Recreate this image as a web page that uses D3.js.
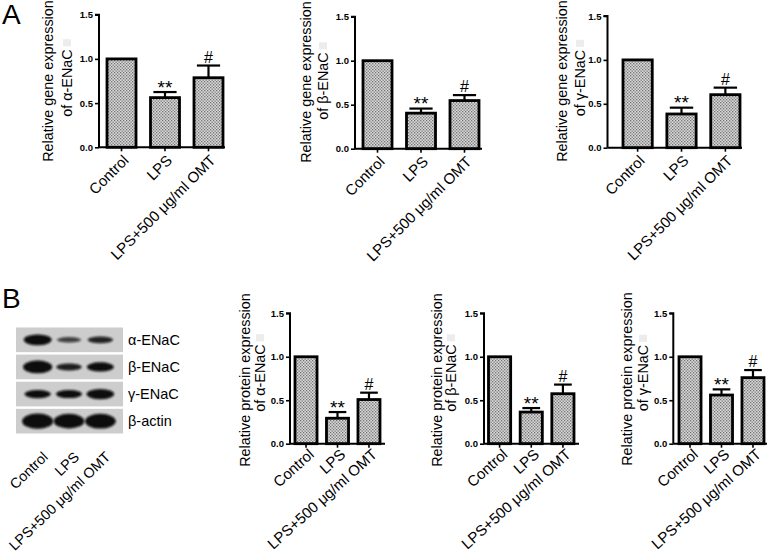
<!DOCTYPE html>
<html><head><meta charset="utf-8">
<script src="https://cdn.jsdelivr.net/npm/d3@7"></script>
<style>
html,body{margin:0;padding:0;background:#fff;}
svg{display:block;font-family:"Liberation Sans",Arial,sans-serif;}
</style></head>
<body>
<script>
// ---------- data ----------
const categories = ["Control", "LPS", "LPS+500 μg/ml OMT"];
const yTickValues = [0, 0.5, 1.0, 1.5];
const yTickLabels = ["0.0", "0.5", "1.0", "1.5"];
const sigMarks = ["", "**", "#"];

const geneAlphaMean = [1.0, 0.562, 0.787];
const geneAlphaErr  = [0, 0.063, 0.138];
const geneBetaMean  = [1.0, 0.404, 0.547];
const geneBetaErr   = [0, 0.052, 0.062];
const geneGammaMean = [1.0, 0.384, 0.604];
const geneGammaErr  = [0, 0.072, 0.080];

const protAlphaMean = [1.0, 0.293, 0.508];
const protAlphaErr  = [0, 0.071, 0.079];
const protBetaMean  = [1.0, 0.364, 0.575];
const protBetaErr   = [0, 0.046, 0.105];
const protGammaMean = [1.0, 0.560, 0.760];
const protGammaErr  = [0, 0.065, 0.087];

const geneTitles = ["of α-ENaC", "of β-ENaC", "of γ-ENaC"];
const protTitles = ["of α-ENaC", "of β-ENaC", "of γ-ENaC"];

const blotProteins = ["α-ENaC", "β-ENaC", "γ-ENaC", "β-actin"];
// relative band density per lane (Control, LPS, LPS+OMT)
const blotDensity = [
  [0.62, 0.16, 0.28],
  [0.78, 0.30, 0.48],
  [0.40, 0.38, 0.58],
  [1.00, 0.95, 0.97]
];

// ---------- drawing ----------
const W = 771, H = 556;
const svg = d3.select("body").append("svg").attr("width", W).attr("height", H);
const defs = svg.append("defs");
const pat = defs.append("pattern").attr("id", "dots")
  .attr("width", 3).attr("height", 3).attr("patternUnits", "userSpaceOnUse");
pat.append("rect").attr("width", 3).attr("height", 3).attr("fill", "#d9d9d9");
pat.append("rect").attr("x", 0).attr("y", 0).attr("width", 1.3).attr("height", 1.3).attr("fill", "#727272");
pat.append("rect").attr("x", 1.5).attr("y", 1.5).attr("width", 1.3).attr("height", 1.3).attr("fill", "#727272");
defs.append("filter").attr("id", "blur").attr("x", "-50%").attr("y", "-100%").attr("width", "200%").attr("height", "300%")
  .append("feGaussianBlur").attr("stdDeviation", 1.3);

const FONT = '"Liberation Sans",Arial,sans-serif';

function barChart(o) {
  const g = svg.append("g");
  const y = d3.scaleLinear().domain([0, 1.5]).range([o.y0, o.yTop]);
  const x = d3.scaleBand().domain(categories).range([o.bx0, o.bx1]).paddingInner(o.pad).paddingOuter(0);

  // bars
  g.selectAll("rect.bar").data(o.mean).join("rect")
    .attr("x", (d, i) => x(categories[i]))
    .attr("y", d => y(d))
    .attr("width", x.bandwidth())
    .attr("height", d => y(0) - y(d))
    .attr("fill", "url(#dots)").attr("stroke", "#000").attr("stroke-width", 2.8);

  // error bars
  const cap = x.bandwidth() * 0.4;
  o.err.forEach((e, i) => {
    if (e <= 0) return;
    const cx = x(categories[i]) + x.bandwidth() / 2;
    g.append("line").attr("x1", cx).attr("x2", cx).attr("y1", y(o.mean[i])).attr("y2", y(o.mean[i] + e))
      .attr("stroke", "#000").attr("stroke-width", 2.2);
    g.append("line").attr("x1", cx - cap).attr("x2", cx + cap).attr("y1", y(o.mean[i] + e)).attr("y2", y(o.mean[i] + e))
      .attr("stroke", "#000").attr("stroke-width", 2.2);
    const mark = sigMarks[i];
    if (mark === "**") {
      g.append("text").attr("x", cx).attr("y", y(o.mean[i] + e) + 1.5).attr("text-anchor", "middle")
        .attr("font-size", 19).attr("font-family", FONT).text(mark);
    } else if (mark) {
      g.append("text").attr("x", cx).attr("y", y(o.mean[i] + e) - 3).attr("text-anchor", "middle")
        .attr("font-size", 16).attr("font-family", FONT).text(mark);
    }
  });

  // y axis
  const ya = d3.axisLeft(y).tickValues(yTickValues).tickFormat((d, i) => yTickLabels[i]).tickSize(4).tickPadding(2);
  const yg = g.append("g").attr("transform", `translate(${o.x0},0)`).call(ya);
  yg.select(".domain").attr("stroke-width", 2).attr("d", `M-4,${y(1.5)}H0V${y(0)}`);
  yg.selectAll(".tick line").attr("stroke-width", 1.6);
  yg.selectAll(".tick text").attr("font-size", 9.5).attr("font-weight", "bold").attr("font-family", FONT).attr("fill", "#000");

  // x axis
  const xa = d3.axisBottom(x).tickSize(4).tickFormat("");
  const xg = g.append("g").attr("transform", `translate(0,${o.y0})`).call(xa);
  xg.select(".domain").attr("stroke-width", 2).attr("d", `M${o.x0},0H${o.axEnd}`);
  xg.selectAll(".tick line").attr("stroke-width", 1.6);

  // x labels
  categories.forEach((c, i) => {
    const cx = x(c) + x.bandwidth() / 2;
    g.append("text").attr("text-anchor", "end").attr("font-size", 15).attr("font-family", FONT)
      .attr("transform", `translate(${cx + o.ldx},${o.y0 + o.ldy}) rotate(${o.rot})`).text(c);
  });

  // y titles
  g.append("text").attr("text-anchor", "middle").attr("font-size", 14.4).attr("font-family", FONT)
    .attr("transform", `translate(${o.t1x},${o.tcy}) rotate(-90)`).text(o.title1);
  const t2 = g.append("text").attr("text-anchor", "middle").attr("font-size", 14.4).attr("font-family", FONT)
    .attr("transform", `translate(${o.t2x},${o.tcy2}) rotate(-90)`).text(o.title2);
  const len = t2.node().getComputedTextLength();
  g.append("rect").attr("x", o.t2x - 9).attr("y", o.tcy2 - len / 2 - 10).attr("width", 8).attr("height", 7).attr("fill", "#ececec");
}

// Panel A
barChart({x0: 99, bx0: 107, bx1: 223, axEnd: 225, pad: 0.333, y0: 147.3, yTop: 14.7,
  mean: geneAlphaMean, err: geneAlphaErr, ldx: 8, ldy: 14, rot: -45,
  title1: "Relative gene expression", title2: geneTitles[0], t1x: 53, t2x: 72, tcy: 81, tcy2: 83});
barChart({x0: 355, bx0: 363, bx1: 479, axEnd: 482, pad: 0.333, y0: 148.7, yTop: 16.7,
  mean: geneBetaMean, err: geneBetaErr, ldx: 8, ldy: 14, rot: -45,
  title1: "Relative gene expression", title2: geneTitles[1], t1x: 311, t2x: 328, tcy: 82, tcy2: 86});
barChart({x0: 607.5, bx0: 623, bx1: 740, axEnd: 742, pad: 0.333, y0: 147.7, yTop: 16,
  mean: geneGammaMean, err: geneGammaErr, ldx: 8, ldy: 14, rot: -45,
  title1: "Relative gene expression", title2: geneTitles[2], t1x: 567, t2x: 585, tcy: 81, tcy2: 83});

// Panel B
barChart({x0: 290, bx0: 295, bx1: 380, axEnd: 385, pad: 0.3, y0: 443.7, yTop: 313.3,
  mean: protAlphaMean, err: protAlphaErr, ldx: 9, ldy: 12, rot: -42,
  title1: "Relative protein expression", title2: protTitles[0], t1x: 250, t2x: 265, tcy: 380, tcy2: 378});
barChart({x0: 484, bx0: 488.5, bx1: 574, axEnd: 579, pad: 0.3, y0: 443.7, yTop: 313.3,
  mean: protBetaMean, err: protBetaErr, ldx: 9, ldy: 12, rot: -42,
  title1: "Relative protein expression", title2: protTitles[1], t1x: 442, t2x: 456, tcy: 380, tcy2: 378});
barChart({x0: 673.3, bx0: 679, bx1: 764, axEnd: 767, pad: 0.3, y0: 443.7, yTop: 313.3,
  mean: protGammaMean, err: protGammaErr, ldx: 9, ldy: 12, rot: -42,
  title1: "Relative protein expression", title2: protTitles[2], t1x: 632, t2x: 648, tcy: 379, tcy2: 378});

// Western blot
const blot = svg.append("g");
const rowY = d3.scaleBand().domain(blotProteins).range([327.5, 433.5]).paddingInner(0.09);
const laneX = d3.scaleBand().domain(categories).range([22, 116]).padding(0);
blotProteins.forEach((p, r) => {
  blot.append("rect").attr("x", 16).attr("y", rowY(p)).attr("width", 107).attr("height", rowY.bandwidth())
    .attr("fill", "#cdcdcd");
  blotDensity[r].forEach((d, l) => {
    blot.append("ellipse")
      .attr("cx", laneX(categories[l]) + laneX.bandwidth() / 2)
      .attr("cy", rowY(p) + rowY.bandwidth() / 2)
      .attr("rx", 11.5 + 4 * d)
      .attr("ry", 1.8 + 5.8 * d)
      .attr("fill", "#0a0a0a")
      .attr("opacity", Math.min(1, 0.55 + 1.2 * d))
      .attr("filter", "url(#blur)");
  });
  blot.append("text").attr("x", 128).attr("y", rowY(p) + rowY.bandwidth() / 2 + 5)
    .attr("font-size", 14.5).attr("font-family", FONT).text(p);
});
categories.forEach((c) => {
  const cx = laneX(c) + laneX.bandwidth() / 2;
  blot.append("text").attr("text-anchor", "end").attr("font-size", 14.3).attr("font-family", FONT)
    .attr("transform", `translate(${cx + 11},${458}) rotate(-44)`).text(c);
});

// panel letters
svg.append("text").attr("x", 2).attr("y", 24).attr("font-size", 28).attr("font-family", FONT).text("A");
svg.append("text").attr("x", 2).attr("y", 308).attr("font-size", 28).attr("font-family", FONT).text("B");
</script>
</body></html>
